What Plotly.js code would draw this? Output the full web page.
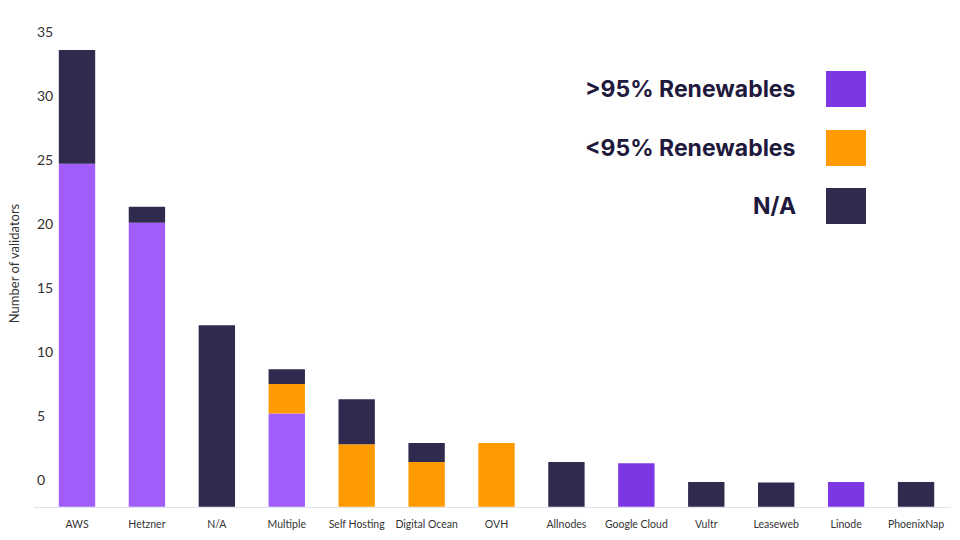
<!DOCTYPE html>
<html>
<head>
<meta charset="utf-8">
<script src="https://cdn.plot.ly/plotly-3.0.1.min.js"></script>
<style>
  html, body { margin: 0; padding: 0; background: #fff; }
  #chart { width: 960px; height: 540px; }
</style>
</head>
<body>
<div id="chart"></div>
<script>
// hosting providers, in chart order
const providers = ['AWS', 'Hetzner', 'N/A', 'Multiple', 'Self Hosting', 'Digital Ocean', 'OVH',
  'Allnodes', 'Google Cloud', 'Vultr', 'Leaseweb', 'Linode', 'PhoenixNap'];

// segment heights (validators), stacked bottom to top
const over95 = [26.8, 22.2, 0, 7.3, 0, 0, 0, 0, 3.4, 0, 0, 1.95, 0];
const under95 = [0, 0, 0, 2.3, 4.9, 3.5, 5.0, 0, 0, 0, 0, 0, 0];
const notAvailable = [8.9, 1.25, 14.2, 1.15, 3.5, 1.5, 0, 3.5, 0, 1.95, 1.9, 0, 1.95];

// bars in the picture sit on a floor drawn a little under the "0" tick
const FLOOR = -2.1;

const yTicks = [0, 5, 10, 15, 20, 25, 30, 35];

const seriesNames = ['>95% Renewables', '<95% Renewables', 'N/A'];
const seriesColors = ['#7c36e3', '#ff9a00', '#2f2a4e'];
// the big providers use a lighter purple than the legend swatch
const over95Colors = ['#a25cfc', '#a25cfc', '#a25cfc', '#a25cfc', '#7c36e3', '#7c36e3', '#7c36e3',
  '#7c36e3', '#7c36e3', '#7c36e3', '#7c36e3', '#7c36e3', '#7c36e3'];

const M = { l: 34, r: 9, t: 20, b: 33 };
const W = 960, H = 540;
const plotW = W - M.l - M.r;
const plotH = H - M.t - M.b;
const px = (x) => (x - M.l) / plotW;
const py = (y) => (H - M.b - y) / plotH;

const stacks = [over95, under95, notAvailable];
const bases = stacks.map((_, k) =>
  providers.map((__, i) => stacks.slice(0, k).reduce((s, arr) => s + arr[i], FLOOR)));

const traces = stacks.map((vals, k) => ({
  type: 'bar',
  name: seriesNames[k],
  x: providers,
  y: vals,
  base: bases[k],
  width: 0.52,
  marker: { color: k === 0 ? over95Colors : seriesColors[k], line: { width: 0 } },
  hoverinfo: 'x+y',
}));

// legend drawn by hand: text on the left, swatch on the right
const legendRows = [89, 148, 206];
const annotations = seriesNames.map((name, k) => ({
  xref: 'paper', yref: 'paper',
  x: px(798), y: py(legendRows[k]),
  xanchor: 'right', yanchor: 'middle',
  text: '<b>' + name.replace('<', '&lt;').replace('>', '&gt;') + '</b>',
  showarrow: false,
  font: { family: 'Inter, sans-serif', size: 23, color: '#1f1a3d' },
}));
const shapes = seriesNames.map((_, k) => ({
  type: 'rect', xref: 'paper', yref: 'paper',
  x0: px(826), x1: px(866),
  y0: py(legendRows[k] + 18), y1: py(legendRows[k] - 18),
  fillcolor: seriesColors[k], line: { width: 0 },
}));

Plotly.newPlot('chart', traces, {
  width: W,
  height: H,
  barmode: 'overlay',
  showlegend: false,
  margin: M,
  paper_bgcolor: '#fff',
  plot_bgcolor: '#fff',
  font: { family: 'Lato, sans-serif', color: '#333' },
  xaxis: {
    type: 'category',
    range: [-0.615, 12.5],
    showgrid: false,
    zeroline: false,
    showline: true,
    linecolor: '#dde3ee',
    linewidth: 1,
    ticks: '',
    ticklabelstandoff: 7,
    tickfont: { size: 10.5, color: '#333' },
  },
  yaxis: {
    range: [FLOOR - 0.01, 35.94],
    tickvals: yTicks,
    ticktext: yTicks.map(String),
    showgrid: false,
    zeroline: false,
    showline: false,
    ticks: '',
    ticklabelposition: 'inside',
    tickfont: { size: 14, color: '#333' },
    title: { text: 'Number of validators', font: { size: 13, color: '#333' }, standoff: 14 },
  },
  annotations,
  shapes,
}, { displayModeBar: false, staticPlot: true });
</script>
</body>
</html>
